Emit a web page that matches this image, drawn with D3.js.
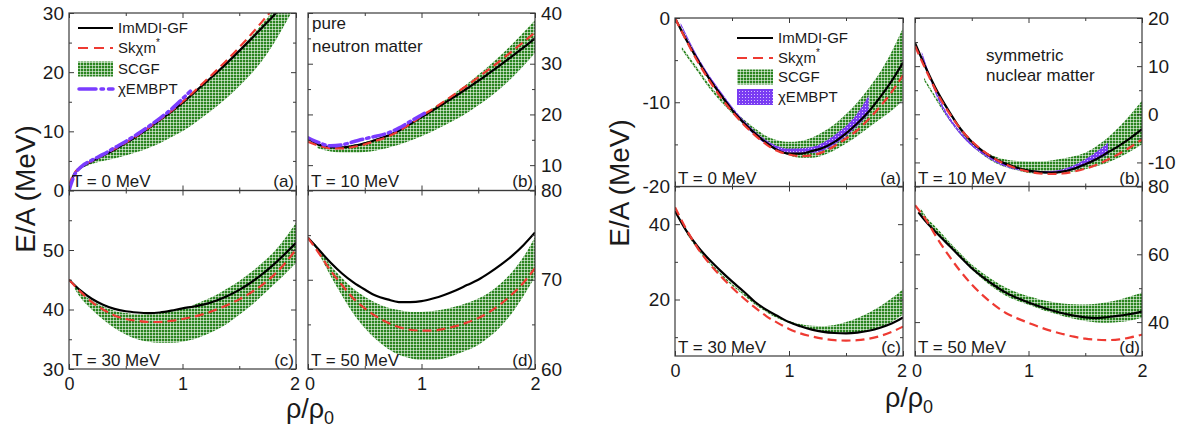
<!DOCTYPE html>
<html><head><meta charset="utf-8">
<script src="https://cdn.jsdelivr.net/npm/d3@7"></script>
<style>
body{margin:0;background:#fff}
svg{display:block}
text{font-family:"Liberation Sans",Arial,Helvetica,sans-serif;fill:#1a1a1a}
</style>
</head><body>
<svg id="chart" width="1184" height="431"></svg>
<script>
// ---------------- DATA ----------------
const rhoGrid = [0,0.1,0.2,0.3,0.4,0.5,0.6,0.7,0.8,0.9,1.0,1.1,1.2,1.3,1.4,1.5,1.6,1.7,1.8,1.9,2.0];
const xMajor = [0,1,2];
const xMinor = [0.5,1.5];
const legendLabels = ["ImMDI-GF","Skχm","SCGF","χEMBPT"];

// Pure neutron matter, T = 0 MeV
const pnm0Rho    = [0,0.02,0.05,0.1,0.2,0.3,0.4,0.5,0.6,0.7,0.8,0.9,1.0,1.1,1.2,1.3,1.4,1.5,1.6,1.7,1.8,1.9,2.0];
const pnm0ImMDI  = [0,1.6,2.9,3.8,4.9,5.9,6.9,8.0,9.2,10.5,11.9,13.3,14.8,16.5,18.2,19.9,21.7,23.6,25.5,27.5,29.5,31.6,33.8];
const pnm0Sk     = [0.8,1.9,3.0,3.9,5.0,6.0,7.0,8.1,9.3,10.6,12.0,13.4,15.0,16.7,18.5,20.3,22.2,24.2,26.3,28.5,30.8,33.2,35.7];
const pnm0BandRho= [0.12,0.2,0.3,0.4,0.5,0.6,0.7,0.8,0.9,1.0,1.1,1.2,1.3,1.4,1.5,1.6,1.7,1.8,1.9,2.0];
const pnm0ScgfLo = [3.9,4.5,5.0,5.4,5.9,6.5,7.2,8.0,9.0,10.0,11.3,12.7,14.2,15.8,17.6,19.6,21.9,24.7,28.0,31.5];
const pnm0ScgfHi = [4.2,5.0,6.0,7.0,8.0,9.2,10.5,11.8,13.2,14.7,16.3,18.0,19.8,21.7,23.8,25.9,28.1,30.4,32.9,35.5];
const pnm0EmbRho = [0,0.02,0.05,0.1,0.2,0.3,0.4,0.5,0.6,0.7,0.8,0.9,1.0,1.07];
const pnm0Emb    = [0,1.2,2.7,3.9,5.1,6.1,7.2,8.3,9.5,10.8,12.2,13.7,15.5,16.8];

// Pure neutron matter, T = 10 MeV
const pnm10ImMDI  = [15.2,14.0,13.5,13.5,13.8,14.3,15.0,15.8,16.8,18.1,19.5,20.8,22.2,23.6,25.1,26.6,28.2,29.8,31.5,33.2,35.0];
const pnm10Sk     = [14.6,13.8,13.3,13.3,13.6,14.1,14.8,15.6,16.7,18.1,19.7,21.1,22.6,24.1,25.7,27.3,29.0,30.7,32.5,34.3,36.2];
const pnm10BandRho= [0.08,0.2,0.3,0.4,0.5,0.6,0.7,0.8,0.9,1.0,1.1,1.2,1.3,1.4,1.5,1.6,1.7,1.8,1.9,2.0];
const pnm10ScgfLo = [13.4,12.7,12.5,12.5,12.6,12.9,13.4,14.0,14.8,15.7,16.7,17.8,19.0,20.3,21.8,23.4,25.2,27.3,29.6,32.1];
const pnm10ScgfHi = [14.0,13.6,13.7,14.0,14.5,15.2,16.0,17.0,18.3,19.8,21.2,22.7,24.3,26.0,27.8,29.7,31.7,33.9,36.2,38.6];
const pnm10EmbRho = [0,0.1,0.2,0.3,0.4,0.5,0.6,0.7,0.8,0.9,1.0,1.05];
const pnm10Emb    = [15.4,14.4,13.8,14.0,14.6,15.2,15.7,16.3,17.3,18.6,19.9,20.5];

// Pure neutron matter, T = 30 MeV
const pnm30ImMDI  = [45.0,43.2,41.8,40.8,40.1,39.7,39.5,39.4,39.5,39.8,40.2,40.5,40.9,41.5,42.3,43.3,44.5,45.9,47.5,49.3,51.2];
const pnm30Sk     = [45.0,43.0,41.3,40.0,39.0,38.4,38.1,37.9,37.9,38.1,38.4,38.8,39.3,40.0,40.8,41.7,42.8,44.1,45.7,47.7,50.1];
const pnm30BandRho= [0.05,0.1,0.2,0.3,0.4,0.5,0.6,0.7,0.8,0.9,1.0,1.1,1.2,1.3,1.4,1.5,1.6,1.7,1.8,1.9,2.0];
const pnm30ScgfHi = [44.0,43.0,41.5,40.5,39.8,39.4,39.2,39.2,39.4,39.7,40.2,40.8,41.6,42.5,43.6,44.8,46.2,47.8,49.6,51.9,54.6];
const pnm30ScgfLo = [43.5,42.0,40.0,38.3,36.9,35.8,35.0,34.6,34.4,34.4,34.6,35.0,35.7,36.6,37.7,39.1,40.6,42.3,44.1,45.9,47.8];

// Pure neutron matter, T = 50 MeV
const pnm50ImMDI  = [74.7,73.3,71.9,70.7,69.7,68.9,68.2,67.8,67.5,67.5,67.6,67.9,68.3,68.8,69.4,70.0,70.8,71.7,72.7,73.9,75.3];
const pnm50Sk     = [74.7,72.9,71.0,69.4,67.9,66.8,65.9,65.2,64.7,64.4,64.3,64.3,64.5,64.8,65.2,65.7,66.4,67.3,68.4,69.7,71.3];
const pnm50BandRho= [0.05,0.1,0.2,0.3,0.4,0.5,0.6,0.7,0.8,0.9,1.0,1.1,1.2,1.3,1.4,1.5,1.6,1.7,1.8,1.9,2.0];
const pnm50ScgfHi = [74.2,73.4,71.6,70.2,69.0,68.1,67.4,66.9,66.6,66.4,66.4,66.5,66.7,67.0,67.4,67.9,68.6,69.6,70.9,72.6,74.8];
const pnm50ScgfLo = [74.0,72.8,70.4,68.2,66.2,64.6,63.3,62.3,61.6,61.2,61.0,61.0,61.2,61.6,62.1,62.7,63.6,64.8,66.3,68.2,70.3];

// Symmetric nuclear matter, T = 0 MeV
const snm0ImMDI  = [0,-2.6,-5.0,-7.2,-9.1,-10.9,-12.4,-13.7,-14.8,-15.7,-16.1,-16.1,-15.8,-15.4,-14.7,-13.7,-12.5,-11.1,-9.4,-7.5,-5.3];
const snm0Sk     = [0,-2.7,-5.2,-7.4,-9.4,-11.1,-12.6,-13.9,-15.0,-15.8,-16.2,-16.4,-16.3,-15.9,-15.2,-14.3,-13.3,-12.0,-10.5,-8.8,-6.8];
const snm0BandRho= [0.06,0.2,0.3,0.4,0.5,0.6,0.7,0.8,0.9,1.0,1.1,1.2,1.3,1.4,1.5,1.6,1.7,1.8,1.9,2.0];
const snm0ScgfHi = [-3.4,-6.0,-7.9,-9.5,-10.8,-12.0,-13.1,-14.0,-14.5,-14.7,-14.6,-14.2,-13.5,-12.6,-11.4,-10.0,-8.3,-6.4,-4.0,-1.2];
const snm0ScgfLo = [-3.8,-6.4,-8.3,-9.9,-11.3,-12.6,-13.8,-14.9,-15.7,-16.3,-16.6,-16.6,-16.3,-15.7,-14.9,-14.0,-13.0,-12.0,-11.0,-9.8];
const snm0EmbRho = [0.05,0.2,0.4,0.6,0.8,1.0,1.2,1.4,1.6,1.7];
const snm0EmbHi  = [-0.6,-4.6,-8.7,-12.1,-14.5,-15.5,-15.3,-13.9,-11.3,-9.2];
const snm0EmbLo  = [-0.9,-5.0,-9.2,-12.6,-15.0,-16.0,-16.0,-15.0,-12.8,-11.4];

// Symmetric nuclear matter, T = 10 MeV
const snm10ImMDI  = [14.8,9.4,4.6,0.6,-3.0,-5.7,-7.7,-9.2,-10.3,-11.1,-11.7,-12.0,-12.1,-11.9,-11.3,-10.4,-9.3,-7.9,-6.5,-4.9,-3.1];
const snm10Sk     = [14.2,9.0,4.2,0.3,-3.0,-5.6,-7.6,-9.2,-10.4,-11.3,-11.9,-12.3,-12.4,-12.3,-11.9,-11.3,-10.5,-9.4,-8.2,-6.8,-5.2];
const snm10BandRho= [0.08,0.2,0.3,0.4,0.5,0.6,0.7,0.8,0.9,1.0,1.1,1.2,1.3,1.4,1.5,1.6,1.7,1.8,1.9,2.0];
const snm10ScgfHi = [7.6,3.0,-0.6,-3.6,-5.9,-7.6,-8.7,-9.4,-9.7,-9.8,-9.8,-9.6,-9.2,-8.7,-8.0,-6.6,-4.8,-2.6,0.0,2.8];
const snm10ScgfLo = [7.0,2.4,-1.2,-4.2,-6.6,-8.5,-10.0,-11.0,-11.7,-12.2,-12.4,-12.4,-12.2,-11.9,-11.4,-10.8,-10.0,-9.0,-7.7,-6.2];
const snm10EmbRho = [0.06,0.2,0.4,0.6,0.8,1.0,1.2,1.4,1.6,1.7];
const snm10EmbHi  = [13.0,4.0,-3.6,-7.9,-10.4,-11.6,-11.8,-10.6,-7.8,-5.9];
const snm10EmbLo  = [12.2,3.2,-4.2,-8.4,-10.9,-12.0,-12.3,-11.5,-9.5,-8.3];

// Symmetric nuclear matter, T = 30 MeV
const snm30ImMDI  = [43.5,38.2,34.0,30.6,27.6,24.8,22.2,19.4,17.3,15.6,14.0,12.9,12.0,11.4,11.1,11.0,11.2,11.7,12.5,13.6,15.2];
const snm30Sk     = [44.5,38.6,33.6,29.6,26.2,23.2,20.4,17.9,15.6,13.8,12.2,11.0,10.2,9.6,9.2,9.1,9.2,9.6,10.3,11.4,12.8];
const snm30BandRho= [0.1,0.2,0.3,0.4,0.5,0.6,0.7,0.8,0.9,1.0,1.1,1.2,1.3,1.4,1.5,1.6,1.7,1.8,1.9,2.0];
const snm30ScgfHi = [37.9,33.6,30.1,27.0,24.2,21.7,19.2,17.1,15.5,14.3,13.5,13.0,12.9,13.2,14.0,15.1,16.5,18.2,20.3,22.7];
const snm30ScgfLo = [37.5,33.2,29.6,26.5,23.7,21.2,18.7,16.7,15.0,13.8,12.8,12.0,11.4,11.1,11.0,11.2,11.7,12.6,14.0,16.0];

// Symmetric nuclear matter, T = 50 MeV
const snm50ImRho  = [0.03,0.1,0.2,0.3,0.4,0.5,0.6,0.7,0.8,0.9,1.0,1.1,1.2,1.3,1.4,1.5,1.6,1.7,1.8,1.9,2.0];
const snm50ImMDI  = [72.4,69.5,66.0,62.6,59.2,55.9,53.2,50.8,48.7,47.1,45.8,44.6,43.5,42.6,41.9,41.4,41.2,41.5,41.9,42.4,43.1];
const snm50Sk     = [74.5,70.0,64.5,59.5,55.0,51.1,47.8,45.0,42.7,41.1,39.8,38.5,37.4,36.5,35.7,35.1,34.8,34.7,34.9,35.5,36.3];
const snm50BandRho= [0.05,0.1,0.2,0.3,0.4,0.5,0.6,0.7,0.8,0.9,1.0,1.1,1.2,1.3,1.4,1.5,1.6,1.7,1.8,1.9,2.0];
const snm50ScgfHi = [73.6,71.0,67.5,63.8,60.3,57.0,54.4,52.1,50.2,48.7,47.6,46.7,46.0,45.5,45.3,45.2,45.4,45.9,46.6,47.6,48.7];
const snm50ScgfLo = [72.2,69.8,66.1,62.5,59.0,55.5,52.5,49.9,47.8,46.3,45.1,43.9,42.8,41.8,41.0,40.3,39.9,39.8,40.0,40.5,41.3];

// ---------------- LAYOUT / STYLE ----------------
const svg = d3.select("#chart");
const defs = svg.append("defs");
const pg = defs.append("pattern").attr("id","scgfPat").attr("width",3).attr("height",3).attr("patternUnits","userSpaceOnUse");
pg.append("rect").attr("width",3).attr("height",3).attr("fill","#2a8420");
pg.append("rect").attr("x",0).attr("y",2).attr("width",3).attr("height",1).attr("fill","#fff").attr("opacity",0.55);
pg.append("rect").attr("x",2).attr("y",0).attr("width",1).attr("height",3).attr("fill","#fff").attr("opacity",0.55);
const pp = defs.append("pattern").attr("id","embPat").attr("width",3).attr("height",3).attr("patternUnits","userSpaceOnUse");
pp.append("rect").attr("width",3).attr("height",3).attr("fill","#7a3cf2");
pp.append("rect").attr("x",1).attr("y",1).attr("width",1).attr("height",1).attr("fill","#fff").attr("opacity",0.7);

const FRAME = "#3a3a3a";
const styles = {
  im:  {stroke:"#000", width:2.2, dash:null},
  sk:  {stroke:"#ee3a32", width:2.2, dash:"9,5"},
  emb: {stroke:"#7a3cff", width:3.5, dash:"12,4,2.5,4"}
};

const panels = [
  // left figure (pure neutron matter)
  {box:[69,13,296,190.5], y:[0,30], major:[0,10,20,30], minor:[5,15,25], side:"L", bottom:false,
   T:"T = 0 MeV", tag:"(a)", ty:187,
   bands:[{rho:pnm0BandRho, lo:pnm0ScgfLo, hi:pnm0ScgfHi, fill:"url(#scgfPat)"}],
   lines:[{rho:pnm0Rho,v:pnm0ImMDI,s:"im"},{rho:pnm0Rho,v:pnm0Sk,s:"sk"},{rho:pnm0EmbRho,v:pnm0Emb,s:"emb"}]},
  {box:[308,13,535,190.5], y:[5,40], major:[10,20,30,40], minor:[15,25,35], side:"R", bottom:false,
   T:"T = 10 MeV", tag:"(b)", ty:187,
   bands:[{rho:pnm10BandRho, lo:pnm10ScgfLo, hi:pnm10ScgfHi, fill:"url(#scgfPat)"}],
   lines:[{rho:rhoGrid,v:pnm10ImMDI,s:"im"},{rho:rhoGrid,v:pnm10Sk,s:"sk"},{rho:pnm10EmbRho,v:pnm10Emb,s:"emb"}]},
  {box:[69,190.5,296,369], y:[30,60], major:[30,40,50], minor:[35,45,55], side:"L", bottom:true,
   T:"T = 30 MeV", tag:"(c)", ty:366,
   bands:[{rho:pnm30BandRho, lo:pnm30ScgfLo, hi:pnm30ScgfHi, fill:"url(#scgfPat)"}],
   lines:[{rho:rhoGrid,v:pnm30ImMDI,s:"im"},{rho:rhoGrid,v:pnm30Sk,s:"sk"}]},
  {box:[308,190.5,535,369], y:[60,80], major:[60,70,80], minor:[65,75], side:"R", bottom:true,
   T:"T = 50 MeV", tag:"(d)", ty:366,
   bands:[{rho:pnm50BandRho, lo:pnm50ScgfLo, hi:pnm50ScgfHi, fill:"url(#scgfPat)"}],
   lines:[{rho:rhoGrid,v:pnm50ImMDI,s:"im"},{rho:rhoGrid,v:pnm50Sk,s:"sk"}]},
  // right figure (symmetric nuclear matter)
  {box:[675,18,903,186.5], y:[-20,0], major:[-20,-10,0], minor:[-15,-5], side:"L", bottom:false,
   T:"T = 0 MeV", tag:"(a)", ty:184,
   bands:[{rho:snm0BandRho, lo:snm0ScgfLo, hi:snm0ScgfHi, fill:"url(#scgfPat)"},
          {rho:snm0EmbRho, lo:snm0EmbLo, hi:snm0EmbHi, fill:"url(#embPat)"}],
   lines:[{rho:rhoGrid,v:snm0ImMDI,s:"im"},{rho:rhoGrid,v:snm0Sk,s:"sk"}]},
  {box:[915,18,1142,186.5], y:[-15,20], major:[-10,0,10,20], minor:[-5,5,15], side:"R", bottom:false,
   T:"T = 10 MeV", tag:"(b)", ty:184,
   bands:[{rho:snm10BandRho, lo:snm10ScgfLo, hi:snm10ScgfHi, fill:"url(#scgfPat)"},
          {rho:snm10EmbRho, lo:snm10EmbLo, hi:snm10EmbHi, fill:"url(#embPat)"}],
   lines:[{rho:rhoGrid,v:snm10ImMDI,s:"im"},{rho:rhoGrid,v:snm10Sk,s:"sk"}]},
  {box:[675,186.5,903,356], y:[5,50], major:[20,40], minor:[10,30], side:"L", bottom:true,
   T:"T = 30 MeV", tag:"(c)", ty:353,
   bands:[{rho:snm30BandRho, lo:snm30ScgfLo, hi:snm30ScgfHi, fill:"url(#scgfPat)"}],
   lines:[{rho:rhoGrid,v:snm30ImMDI,s:"im"},{rho:rhoGrid,v:snm30Sk,s:"sk"}]},
  {box:[915,186.5,1142,356], y:[30,80], major:[40,60,80], minor:[50,70], side:"R", bottom:true,
   T:"T = 50 MeV", tag:"(d)", ty:353,
   bands:[{rho:snm50BandRho, lo:snm50ScgfLo, hi:snm50ScgfHi, fill:"url(#scgfPat)"}],
   lines:[{rho:snm50ImRho,v:snm50ImMDI,s:"im"},{rho:rhoGrid,v:snm50Sk,s:"sk"}]}
];

const fmt = d => String(d);

panels.forEach((p,i) => {
  const [x0,y0,x1,y1] = p.box;
  const x = d3.scaleLinear().domain([0,2]).range([x0,x1]);
  const y = d3.scaleLinear().domain(p.y).range([y1,y0]);
  const cid = "clip"+i;
  defs.append("clipPath").attr("id",cid).append("rect")
    .attr("x",x0).attr("y",y0).attr("width",x1-x0).attr("height",y1-y0);
  const g = svg.append("g");
  const plot = g.append("g").attr("clip-path",`url(#${cid})`);

  p.bands.forEach(b => {
    const area = d3.area().x(d=>x(d[0])).y0(d=>y(d[1])).y1(d=>y(d[2])).curve(d3.curveMonotoneX);
    plot.append("path").attr("d", area(d3.zip(b.rho,b.lo,b.hi))).attr("fill",b.fill);
  });
  p.lines.forEach(l => {
    const st = styles[l.s];
    const line = d3.line().x(d=>x(d[0])).y(d=>y(d[1])).curve(d3.curveMonotoneX);
    plot.append("path").attr("d", line(d3.zip(l.rho,l.v)))
      .attr("fill","none").attr("stroke",st.stroke).attr("stroke-width",st.width)
      .attr("stroke-dasharray",st.dash).attr("stroke-linecap", l.s==="emb"?"round":"butt");
  });

  const styleAxis = (fs) => sel => {
    sel.select(".domain").remove();
    sel.selectAll(".tick line").attr("stroke",FRAME).attr("stroke-width",1);
    sel.attr("font-family","Liberation Sans, Arial, sans-serif").attr("font-size",fs);
    sel.selectAll(".tick text").attr("fill","#1a1a1a");
  };
  // x axes
  const bx = g.append("g").attr("transform",`translate(0,${y1})`)
    .call(d3.axisBottom(x).tickValues(xMajor).tickSize(-5).tickPadding(8).tickFormat(p.bottom?fmt:()=>""))
    .call(styleAxis(18));
  bx.selectAll(".tick text").attr("dx", d => (p.side==="L" && d===2) ? -1.5 : (p.side==="R" && d===0) ? 1.5 : 0);
  g.append("g").attr("transform",`translate(0,${y1})`)
    .call(d3.axisBottom(x).tickValues(xMinor).tickSize(-3).tickFormat(()=>"")).call(styleAxis(18));
  g.append("g").attr("transform",`translate(0,${y0})`)
    .call(d3.axisTop(x).tickValues(xMajor).tickSize(-5).tickFormat(()=>"")).call(styleAxis(18));
  g.append("g").attr("transform",`translate(0,${y0})`)
    .call(d3.axisTop(x).tickValues(xMinor).tickSize(-3).tickFormat(()=>"")).call(styleAxis(18));
  // y axes
  g.append("g").attr("transform",`translate(${x0},0)`)
    .call(d3.axisLeft(y).tickValues(p.major).tickSize(-5).tickPadding(5).tickFormat(p.side==="L"?fmt:()=>""))
    .call(styleAxis(19));
  g.append("g").attr("transform",`translate(${x0},0)`)
    .call(d3.axisLeft(y).tickValues(p.minor).tickSize(-3).tickFormat(()=>"")).call(styleAxis(19));
  g.append("g").attr("transform",`translate(${x1},0)`)
    .call(d3.axisRight(y).tickValues(p.major).tickSize(-5).tickPadding(6).tickFormat(p.side==="R"?fmt:()=>""))
    .call(styleAxis(19));
  g.append("g").attr("transform",`translate(${x1},0)`)
    .call(d3.axisRight(y).tickValues(p.minor).tickSize(-3).tickFormat(()=>"")).call(styleAxis(19));

  g.append("rect").attr("x",x0).attr("y",y0).attr("width",x1-x0).attr("height",y1-y0)
    .attr("fill","none").attr("stroke",FRAME).attr("stroke-width",1.2);

  g.append("text").attr("x",x0+3).attr("y",p.ty).attr("font-size",17).text(p.T);
  g.append("text").attr("x",x1-2).attr("y",p.ty).attr("font-size",17).attr("text-anchor","end").text(p.tag);
});

// matter labels
svg.append("text").attr("x",312).attr("y",29).attr("font-size",17).text("pure");
svg.append("text").attr("x",312).attr("y",52).attr("font-size",17).text("neutron matter");
svg.append("text").attr("x",986).attr("y",61).attr("font-size",17).text("symmetric");
svg.append("text").attr("x",986).attr("y",81).attr("font-size",17).text("nuclear matter");

// legends
function legend(lx0, lx1, tx, rows, embBand){
  const lg = svg.append("g");
  lg.append("line").attr("x1",lx0).attr("x2",lx1).attr("y1",rows[0]).attr("y2",rows[0])
    .attr("stroke",styles.im.stroke).attr("stroke-width",styles.im.width);
  lg.append("line").attr("x1",lx0).attr("x2",lx1).attr("y1",rows[1]).attr("y2",rows[1])
    .attr("stroke",styles.sk.stroke).attr("stroke-width",styles.sk.width).attr("stroke-dasharray","10,6");
  lg.append("rect").attr("x",lx0).attr("y",rows[2]-7.5).attr("width",lx1-lx0).attr("height",15)
    .attr("fill","url(#scgfPat)");
  if (embBand) {
    lg.append("rect").attr("x",lx0).attr("y",rows[3]-8).attr("width",lx1-lx0).attr("height",16)
      .attr("fill","url(#embPat)");
  } else {
    lg.append("line").attr("x1",lx0+1).attr("x2",lx1).attr("y1",rows[3]).attr("y2",rows[3])
      .attr("stroke",styles.emb.stroke).attr("stroke-width",styles.emb.width)
      .attr("stroke-dasharray","17,5,2.5,5").attr("stroke-linecap","round");
  }
  legendLabels.forEach((t,k) => {
    const tt = lg.append("text").attr("x",tx).attr("y",rows[k]).attr("dy","0.35em").attr("font-size",15);
    tt.text(t);
    if (k===1) tt.append("tspan").attr("font-size",10).attr("dy","-0.7em").text("*");
  });
}
legend(78, 113, 118, [28,48,69,89], false);
legend(737, 773, 778, [38,58,77,97], true);

// axis titles
function yTitle(cx, cy){
  svg.append("text").attr("transform",`translate(${cx},${cy}) rotate(-90)`)
    .attr("text-anchor","middle").attr("dy","0.35em").attr("font-size",28).text("E/A (MeV)");
}
yTitle(25,189); yTitle(619,183);
function xTitle(cx, by){
  const t = svg.append("text").attr("x",cx).attr("y",by).attr("text-anchor","middle").attr("font-size",27);
  t.append("tspan").text("ρ/ρ");
  t.append("tspan").attr("font-size",18).attr("dy",6).text("0");
}
xTitle(310,418); xTitle(909,407);
</script>
</body></html>
